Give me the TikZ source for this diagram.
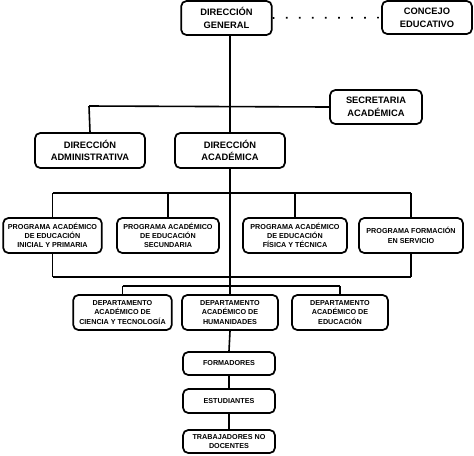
\documentclass[tikz,border=0pt]{standalone}
\usepackage{fontspec}
\setsansfont{Liberation Sans}
\usetikzlibrary{shapes,arrows,fit,positioning}
\def\BigTxt{\fontsize{7}{9.5}\selectfont}
\def\SmallTxt{\fontsize{5.4}{7}\selectfont}

\begin{document}
\begin{tikzpicture}[x=0.75pt,y=-0.75pt,% one unit is one pixel of the reference
			every node/.style={
				align=center,  		% so that "\\" breaks the line
				font=\sffamily\bfseries,
				inner sep=0pt
			},
			box/.style={rectangle,rounded corners=4pt,line width=1.3pt,draw=black,fill=white},
			every edge/.style={draw,line width=1.2pt}
		]
		\useasboundingbox (0,0) rectangle (474,455);
		% top level
		\node[box,minimum width=68pt,minimum height=25.5pt,font=\sffamily\bfseries\BigTxt](R1) at (226.5,18){DIRECCIÓN\\GENERAL};
		\node[box,minimum width=67.5pt,minimum height=24.8pt,font=\sffamily\bfseries\BigTxt](R2) at (427,17.5){CONCEJO\\EDUCATIVO};
		\node[box,minimum width=69pt,minimum height=25.5pt,font=\sffamily\bfseries\BigTxt](R3) at (376,107){SECRETARIA\\ACADÉMICA};
		\node[box,minimum width=82.5pt,minimum height=26.3pt,font=\sffamily\bfseries\BigTxt](R4) at (90,150.5){DIRECCIÓN\\ADMINISTRATIVA};
		\node[box,minimum width=82.5pt,minimum height=26.3pt,font=\sffamily\bfseries\BigTxt](R5) at (230,150.5){DIRECCIÓN\\ACADÉMICA};
		% programas
		\node[box,minimum width=74pt,minimum height=26.3pt,font=\sffamily\bfseries\SmallTxt](R6) at (52.5,235.5){PROGRAMA ACADÉMICO\\DE EDUCACIÓN\\INICIAL Y PRIMARIA};
		\node[box,minimum width=76.5pt,minimum height=26.3pt,font=\sffamily\bfseries\SmallTxt](R7) at (168,235.5){PROGRAMA ACADÉMICO\\DE EDUCACIÓN\\SECUNDARIA};
		\node[box,minimum width=78pt,minimum height=26.3pt,font=\sffamily\bfseries\SmallTxt](R8) at (295,235.5){PROGRAMA ACADÉMICO\\DE EDUCACIÓN\\FÍSICA Y TÉCNICA};
		\node[box,minimum width=78pt,minimum height=26.3pt,font=\sffamily\bfseries\SmallTxt](R9) at (411,235.5){PROGRAMA FORMACIÓN\\EN SERVICIO};
		% departamentos
		\node[box,minimum width=74pt,minimum height=26.3pt,font=\sffamily\bfseries\SmallTxt](R10) at (122.5,312.5){DEPARTAMENTO\\ACADÉMICO DE\\CIENCIA Y TECNOLOGÍA};
		\node[box,minimum width=72pt,minimum height=26.3pt,font=\sffamily\bfseries\SmallTxt](R11) at (230,312.5){DEPARTAMENTO\\ACADÉMICO DE\\HUMANIDADES};
		\node[box,minimum width=72pt,minimum height=26.3pt,font=\sffamily\bfseries\SmallTxt](R12) at (340,312.5){DEPARTAMENTO\\ACADÉMICO DE\\EDUCACIÓN};
		% base
		\node[box,minimum width=69pt,minimum height=17.3pt,font=\sffamily\bfseries\SmallTxt](R13) at (229,363.5){FORMADORES};
		\node[box,minimum width=69pt,minimum height=18pt,font=\sffamily\bfseries\SmallTxt](R14) at (229,401){ESTUDIANTES};
		\node[box,minimum width=69pt,minimum height=17.3pt,font=\sffamily\bfseries\SmallTxt](R15) at (229,441.5){TRABAJADORES NO\\DOCENTES};
		% bus points
		\coordinate (S1) at (89,106);
		\coordinate (S2) at (230,193);
		\coordinate (S3) at (230,277);
		\coordinate (S4) at (230,286);
		\path
		(R1)edge [line width=1.3pt,dash pattern=on 1.3pt off 8.5pt] (R2)
		(R1.south -| R5.north)edge [] (R5.north)
		(S1)edge [] (R3.west)
		(S1)edge [] (R4.north)
		(R5.south)edge [] (R11.north)
		(S2 -| R6.north)edge [] (S2 -| R9.north)
		(S2 -| R6.north)edge [] (R6.north)
		(S2 -| R7.north)edge [] (R7.north)
		(S2 -| R8.north)edge [] (R8.north)
		(S2 -| R9.north)edge [] (R9.north)
		(R6.south)edge [] (S3 -| R6.south)
		(S3 -| R6.south)edge [] (S3 -| R9.south)
		(S3 -| R9.south)edge [] (R9.south)
		(S4 -| R10.north)edge [] (S4 -| R12.north)
		(S4 -| R10.north)edge [] (R10.north)
		(S4 -| R12.north)edge [] (R12.north)
		(R11.south)edge [] (R13.north)
		(R13)edge [] (R14)
		(R14)edge [] (R15)
		;
	\end{tikzpicture}
\end{document}
